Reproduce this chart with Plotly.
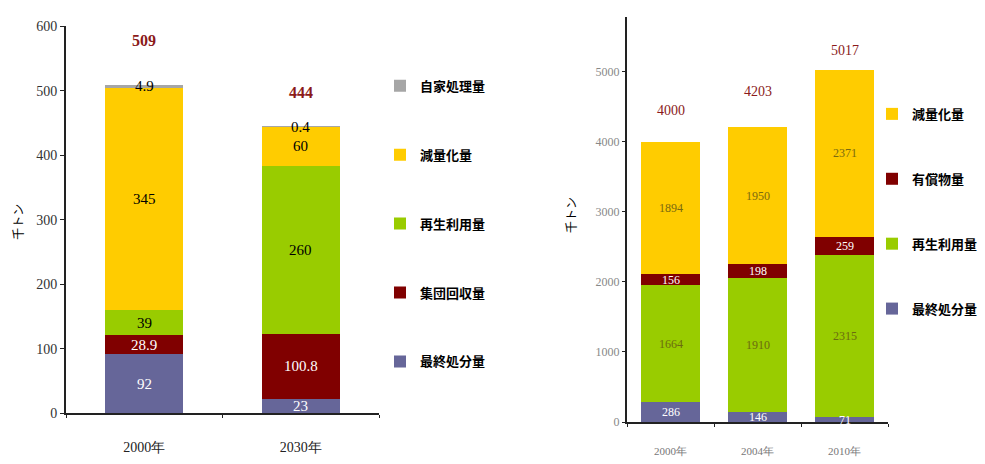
import plotly.graph_objects as go

W, H = 985, 464

# ---------- data: left chart ----------
left_years = ["2000年", "2030年"]
left_series = ["最終処分量", "集団回収量", "再生利用量", "減量化量", "自家処理量"]
left_final = [92, 23]
left_group = [28.9, 100.8]
left_recycle = [39, 260]
left_reduce = [345, 60]
left_self = [4.9, 0.4]
left_totals = [509, 444]
left_ticks = [0, 100, 200, 300, 400, 500, 600]

# ---------- data: right chart ----------
right_years = ["2000年", "2004年", "2010年"]
right_series = ["最終処分量", "再生利用量", "有償物量", "減量化量"]
right_final = [286, 146, 71]
right_recycle = [1664, 1910, 2315]
right_paid = [156, 198, 259]
right_reduce = [1894, 1950, 2371]
right_totals = [4000, 4203, 5017]
right_ticks = [0, 1000, 2000, 3000, 4000, 5000]

C_GRAY = "#A6A6A6"
C_YEL = "#FFCC00"
C_GRN = "#99CC00"
C_RED = "#800000"
C_PUR = "#666699"

SERIF = "Liberation Serif"
CJK = "Noto Sans CJK JP"


def px_x(p):
    return p / W


def px_y(p):
    return 1 - p / H


fig = go.Figure()
annotations = []


def add_stack(defs, cats, xa, ya, leg, width, fsize):
    base = [0.0] * len(cats)
    for i, (name, vals, col, tcol) in enumerate(defs):
        fig.add_trace(go.Bar(
            x=cats, y=vals, name=name, marker_color=col,
            marker_line_width=0, width=width, textposition="none",
            xaxis=xa, yaxis=ya, legend=leg, legendgroup=leg + name,
            legendrank=100 - i, hoverinfo="x+y+name",
        ))
        for j, (c, v) in enumerate(zip(cats, vals)):
            annotations.append(dict(
                x=c, y=base[j] + v / 2, xref=xa, yref=ya, text=str(v),
                showarrow=False, font=dict(family=SERIF, size=fsize, color=tcol)))
            base[j] += v


left_defs = [
    (left_series[0], left_final, C_PUR, "white"),
    (left_series[1], left_group, C_RED, "white"),
    (left_series[2], left_recycle, C_GRN, "black"),
    (left_series[3], left_reduce, C_YEL, "black"),
    (left_series[4], left_self, C_GRAY, "black"),
]
add_stack(left_defs, left_years, "x", "y", "legend", 0.5, 15)

right_defs = [
    (right_series[0], right_final, C_PUR, "white"),
    (right_series[1], right_recycle, C_GRN, "#6B6B10"),
    (right_series[2], right_paid, C_RED, "white"),
    (right_series[3], right_reduce, C_YEL, "#7A6A10"),
]
add_stack(right_defs, right_years, "x2", "y2", "legend2", 0.67, 12)

left_shift = [45, 34]
for yr, tot, sh in zip(left_years, left_totals, left_shift):
    annotations.append(dict(x=yr, y=tot, xref="x", yref="y", text="<b>%d</b>" % tot,
                            showarrow=False, yshift=sh,
                            font=dict(family=SERIF, size=16, color="#8B1A1A")))
right_shift = [31, 36, 20]
for yr, tot, sh in zip(right_years, right_totals, right_shift):
    annotations.append(dict(x=yr, y=tot, xref="x2", yref="y2", text="%d" % tot,
                            showarrow=False, yshift=sh,
                            font=dict(family=SERIF, size=14, color="#8B1A1A")))

annotations.append(dict(x=px_x(18), y=px_y(222), xref="paper", yref="paper",
                        xanchor="center", yanchor="middle",
                        text="千トン", textangle=-90, showarrow=False,
                        font=dict(family=CJK, size=12, color="black")))
annotations.append(dict(x=px_x(570), y=px_y(215), xref="paper", yref="paper",
                        xanchor="center", yanchor="middle",
                        text="千トン", textangle=-90, showarrow=False,
                        font=dict(family=CJK, size=12, color="black")))

fig.update_layout(
    width=W, height=H,
    margin=dict(l=0, r=0, t=0, b=0),
    paper_bgcolor="white", plot_bgcolor="white",
    barmode="stack", bargap=0.5,
    showlegend=True,
    xaxis=dict(domain=[px_x(66), px_x(379)], anchor="y", type="category",
               showline=True, linecolor="#222", linewidth=2,
               ticks="outside", tickson="boundaries", ticklen=3, tickcolor="#222",
               ticklabelstandoff=20,
               tickfont=dict(family=SERIF, size=14, color="#222"),
               showgrid=False, zeroline=False),
    yaxis=dict(domain=[px_y(420), px_y(20)], anchor="x", range=[0, 600],
               tickvals=left_ticks, showline=True, linecolor="#222", linewidth=2,
               ticks="outside", ticklen=4, tickcolor="#222",
               tickfont=dict(family=SERIF, size=14, color="#333"),
               showgrid=False, zeroline=False),
    xaxis2=dict(domain=[px_x(627), px_x(888)], anchor="y2", type="category",
                showline=True, linecolor="#222", linewidth=2,
                ticks="outside", tickson="boundaries", ticklen=3, tickcolor="#222",
                ticklabelstandoff=18,
                tickfont=dict(family=SERIF, size=11, color="#777"),
                showgrid=False, zeroline=False),
    yaxis2=dict(domain=[px_y(429), px_y(10)], anchor="x2", range=[0, 5780],
                tickvals=right_ticks, showline=True, linecolor="#222", linewidth=2,
                ticks="outside", ticklen=3, tickcolor="#222",
                tickfont=dict(family=SERIF, size=12, color="#888"),
                showgrid=False, zeroline=False),
    legend=dict(x=px_x(380), y=px_y(66), xanchor="left", yanchor="top",
                traceorder="grouped", tracegroupgap=49,
                font=dict(family=CJK, size=13, color="black", weight="bold"),
                bgcolor="rgba(0,0,0,0)"),
    legend2=dict(x=px_x(872), y=px_y(95), xanchor="left", yanchor="top",
                 traceorder="grouped", tracegroupgap=45,
                 font=dict(family=CJK, size=13, color="black", weight="bold"),
                 bgcolor="rgba(0,0,0,0)"),
    annotations=annotations,
)

fig.write_html("out.html")
